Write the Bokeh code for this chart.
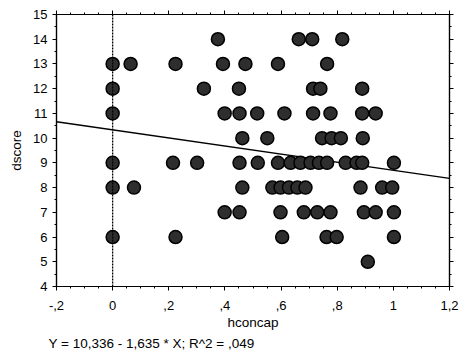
from bokeh.plotting import figure
from bokeh.models import (LinearAxis, Span, Title, FixedTicker, ColumnDataSource,
                          CustomJSTickFormatter, Range1d)
from bokeh.embed import file_html
from bokeh.resources import INLINE

# ---- data ----
hconcap_14 = [0.375, 0.663, 0.711, 0.818]
hconcap_13 = [0.0, 0.064, 0.224, 0.393, 0.473, 0.589, 0.764]
hconcap_12 = [0.0, 0.325, 0.450, 0.714, 0.740, 0.889]
hconcap_11 = [0.0, 0.399, 0.452, 0.515, 0.612, 0.714, 0.776, 0.889, 0.937]
hconcap_10 = [0.462, 0.551, 0.746, 0.780, 0.813, 0.891]
hconcap_9 = [0.0, 0.215, 0.301, 0.452, 0.517, 0.589, 0.634, 0.669, 0.705,
             0.735, 0.764, 0.830, 0.869, 0.889, 1.002]
hconcap_8 = [0.0, 0.076, 0.462, 0.569, 0.598, 0.628, 0.658, 0.687, 0.883,
             0.960, 0.996]
hconcap_7 = [0.399, 0.452, 0.598, 0.681, 0.729, 0.776, 0.895, 0.937, 1.002]
hconcap_6 = [0.0, 0.224, 0.604, 0.762, 0.798, 1.002]
hconcap_5 = [0.909]

rows = {14: hconcap_14, 13: hconcap_13, 12: hconcap_12, 11: hconcap_11,
        10: hconcap_10, 9: hconcap_9, 8: hconcap_8, 7: hconcap_7,
        6: hconcap_6, 5: hconcap_5}

intercept = 10.336
slope = -1.635
equation = "Y = 10,336 - 1,635 * X; R^2 = ,049"

x_ticks = [-0.2, 0.0, 0.2, 0.4, 0.6, 0.8, 1.0, 1.2]
x_tick_labels = ["-,2", "0", ",2", ",4", ",6", ",8", "1", "1,2"]
y_ticks = list(range(4, 16))

xs, ys = [], []
for score, vals in rows.items():
    for v in vals:
        xs.append(v)
        ys.append(score)
src = ColumnDataSource(dict(x=xs, y=ys))

FONT = "Liberation Sans"

p = figure(width=459, height=352, output_backend="svg", toolbar_location=None,
           x_range=Range1d(-0.2, 1.2), y_range=Range1d(4, 15),
           min_border_left=56, min_border_right=10, min_border_top=14,
           min_border_bottom=9, x_axis_type=None, y_axis_type=None)
p.background_fill_color = "white"
p.border_fill_color = "white"
p.outline_line_color = "black"
p.outline_line_width = 1.2
p.xgrid.visible = False
p.ygrid.visible = False

def style(ax):
    ax.major_tick_out = 4
    ax.major_tick_in = 0
    ax.minor_tick_out = 2
    ax.minor_tick_in = 0
    ax.axis_line_color = "black"
    ax.axis_line_width = 1.2
    ax.major_tick_line_color = "black"
    ax.minor_tick_line_color = "black"
    ax.major_label_text_font = FONT
    ax.major_label_text_font_size = "13px"
    ax.major_label_text_color = "black"
    ax.axis_label_text_font = FONT
    ax.axis_label_text_font_size = "13.5px"
    ax.axis_label_text_font_style = "normal"
    ax.axis_label_text_color = "black"

xt = FixedTicker(ticks=x_ticks, minor_ticks=[round(-0.2 + 0.05 * i, 3) for i in range(29)])
yt = FixedTicker(ticks=y_ticks, minor_ticks=[4 + 0.5 * i for i in range(23)])

xb = LinearAxis(ticker=xt, axis_label="hconcap")
style(xb)
xb.major_label_overrides = {t: l for t, l in zip(x_ticks, x_tick_labels)}
xb.major_label_standoff = 10
xb.axis_label_standoff = 2
p.add_layout(xb, "below")

xa = LinearAxis(ticker=xt, formatter=CustomJSTickFormatter(code="return ''"))
style(xa)
xa.major_label_standoff = 0
p.add_layout(xa, "above")

yl = LinearAxis(ticker=yt, axis_label="dscore")
style(yl)
yl.major_label_standoff = 5
yl.axis_label_standoff = 6
p.add_layout(yl, "left")

yr = LinearAxis(ticker=yt, formatter=CustomJSTickFormatter(code="return ''"))
style(yr)
yr.major_label_standoff = 0
p.add_layout(yr, "right")

# vertical dotted line at x = 0
p.add_layout(Span(location=0, dimension="height", line_color="black",
                  line_dash="2 1", line_width=1.3))

# regression line
lx = [-0.2, 1.2]
ly = [intercept + slope * v for v in lx]
p.line(lx, ly, line_color="black", line_width=1.3)

p.scatter("x", "y", source=src, size=13, fill_color="#2e2e2e",
          line_color="black", line_width=1.5)

p.add_layout(Title(text=equation, align="left", offset=-8, standoff=3,
                   text_font=FONT, text_font_size="13.5px",
                   text_font_style="normal", text_color="black"), "below")

open("out.html", "w").write(file_html(p, INLINE))
